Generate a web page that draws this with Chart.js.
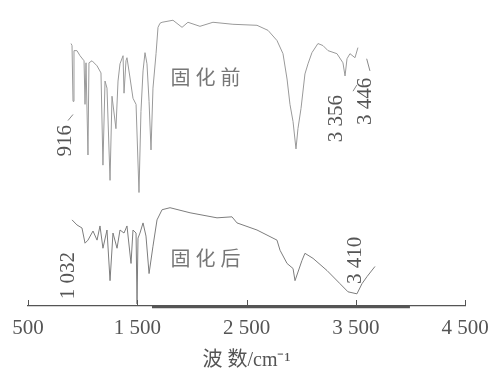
<!DOCTYPE html>
<html lang="zh">
<head>
<meta charset="UTF-8">
<title>IR spectra</title>
<script src="https://cdn.jsdelivr.net/npm/chart.js"></script>
<style>
    body { margin: 0; background: #fff; }
    #wrap { width: 492px; height: 368px; }
</style>
</head>
<body>
<div id="wrap"><canvas id="irChart" width="492" height="368"></canvas></div>
<script>
// wavenumbers (cm-1) and relative transmittance
const beforeWave = [894, 903, 912, 921, 948, 976, 1013, 1022, 1031, 1049, 1058, 1086, 1132, 1168, 1186, 1205, 1223, 1251, 1269, 1305,
    1324, 1342, 1370, 1379, 1397, 1406, 1434, 1461, 1489, 1516, 1534, 1553, 1571, 1589, 1608, 1626, 1644, 1672, 1690, 1708,
    1727, 1827, 1910, 1964, 2074, 2193, 2376, 2596, 2697, 2779, 2834, 2871, 2898, 2926, 2953, 2971, 2999, 3035, 3063, 3099,
    3154, 3200, 3246, 3328, 3383, 3402, 3420, 3447, 3493, 3520];
const beforeT = [259, 257, 202, 252, 252, 247, 242, 199, 240, 149, 240, 242, 237, 230, 139, 222, 215, 124, 207, 175,
    222, 239, 247, 210, 242, 245, 225, 205, 199, 112, 192, 232, 250, 239, 202, 154, 215, 249, 275, 279,
    280, 282, 275, 280, 276, 280, 278, 277, 272, 262, 249, 224, 199, 182, 155, 175, 195, 229, 239, 250,
    259, 257, 252, 249, 240, 227, 244, 249, 245, 255];

const afterWave = [903, 948, 994, 1022, 1049, 1095, 1132, 1159, 1186, 1223, 1251, 1278, 1315, 1342, 1379, 1406, 1443, 1461, 1489, 1498,
    1507, 1525, 1553, 1580, 1608, 1644, 1681, 1727, 1800, 1983, 2230, 2367, 2413, 2596, 2779, 2807, 2871, 2926, 2944, 3008,
    3035, 3109, 3237, 3356, 3429, 3511, 3557, 3603, 3676];
const afterT = [85, 80, 77, 62, 65, 74, 65, 79, 57, 75, 25, 72, 57, 75, 72, 79, 42, 75, 72, 2,
    67, 72, 82, 69, 32, 59, 85, 95, 97, 92, 87, 88, 82, 75, 65, 55, 42, 37, 25, 45,
    52, 47, 35, 22, 14, 12, 22, 29, 39];

// thick base segment under the axis
const baseWave = [1635, 3996];
const baseT = [-1, -1];

const xTicks = [500, 1500, 2500, 3500, 4500];

// peak labels: text, wavenumber, height, rotated?
const labelText = ['916', '3 356', '3 446', '1 032', '3 410', '固化前', '固化后'];
const labelWave = [839, 3328, 3585, 866, 3502, 2148, 2148];
const labelT = [163, 185, 202, 30, 45, 226, 47];
const labelRot = [true, true, true, true, true, false, false];

// short leader strokes: [wave1, t1, wave2, t2]
const leaders = [[866, 183, 912, 189], [3475, 212, 3510, 218], [3630, 232, 3600, 244]];

function pts(xs, ys) {
    return xs.map((x, i) => ({ x: x, y: ys[i] }));
}

const spaced = v => {
    const s = String(v);
    return s.length > 3 ? s.slice(0, s.length - 3) + ' ' + s.slice(-3) : s;
};

const extras = {
    id: 'extras',
    afterDatasetsDraw(chart) {
        const { ctx, scales: { x, y }, chartArea } = chart;
        ctx.save();
        // inner tick marks
        ctx.strokeStyle = '#555';
        ctx.lineWidth = 1;
        xTicks.forEach(t => {
            const px = Math.round(x.getPixelForValue(t)) + 0.5;
            ctx.beginPath();
            ctx.moveTo(px, chartArea.bottom);
            ctx.lineTo(px, chartArea.bottom - 6);
            ctx.stroke();
        });
        // leaders
        ctx.strokeStyle = '#888';
        leaders.forEach(l => {
            ctx.beginPath();
            ctx.moveTo(x.getPixelForValue(l[0]), y.getPixelForValue(l[1]));
            ctx.lineTo(x.getPixelForValue(l[2]), y.getPixelForValue(l[3]));
            ctx.stroke();
        });
        // labels
        ctx.textAlign = 'center';
        ctx.textBaseline = 'middle';
        labelText.forEach((txt, i) => {
            const px = x.getPixelForValue(labelWave[i]);
            const py = y.getPixelForValue(labelT[i]);
            ctx.save();
            ctx.translate(px, py);
            if (labelRot[i]) {
                ctx.rotate(-Math.PI / 2);
                ctx.fillStyle = '#555';
                ctx.font = '21px "Liberation Serif"';
            } else {
                ctx.fillStyle = '#777';
                ctx.font = '20px "Noto Sans CJK SC"';
                ctx.letterSpacing = '5px';
            }
            ctx.fillText(txt, 0, 0);
            ctx.restore();
        });
        ctx.restore();
    }
};

new Chart(document.getElementById('irChart'), {
    type: 'scatter',
    data: {
        datasets: [
            { label: '固化前', data: pts(beforeWave, beforeT), showLine: true, borderColor: '#9a9a9a', borderWidth: 1, pointRadius: 0, tension: 0 },
            { label: '固化后', data: pts(afterWave, afterT), showLine: true, borderColor: '#7d7d7d', borderWidth: 1, pointRadius: 0, tension: 0 },
            { label: 'base', data: pts(baseWave, baseT), showLine: true, borderColor: '#555', borderWidth: 2.5, pointRadius: 0, clip: false }
        ]
    },
    options: {
        responsive: false,
        animation: false,
        layout: { padding: { left: 28, right: 27, top: 2, bottom: -3 } },
        plugins: { legend: { display: false }, tooltip: { enabled: false } },
        scales: {
            x: {
                type: 'linear',
                min: 500,
                max: 4500,
                afterBuildTicks: s => { s.ticks = xTicks.map(v => ({ value: v })); },
                afterFit: s => { s.paddingLeft = 0; s.paddingRight = 0; },
                border: { display: true, color: '#555', width: 1.2 },
                grid: { drawOnChartArea: false, drawTicks: false },
                ticks: {
                    autoSkip: false,
                    maxRotation: 0,
                    padding: 12,
                    color: '#555',
                    font: { family: '"Liberation Serif"', size: 21, lineHeight: 1 },
                    callback: v => spaced(v)
                },
                title: {
                    display: true,
                    text: '波 数/cm⁻¹',
                    color: '#555',
                    font: { family: '"Liberation Serif", "Noto Sans CJK SC"', size: 20, lineHeight: 1 },
                    padding: { top: 0, bottom: 0 }
                }
            },
            y: {
                display: false,
                min: 0,
                max: 300
            }
        }
    },
    plugins: [extras]
});
</script>
</body>
</html>
